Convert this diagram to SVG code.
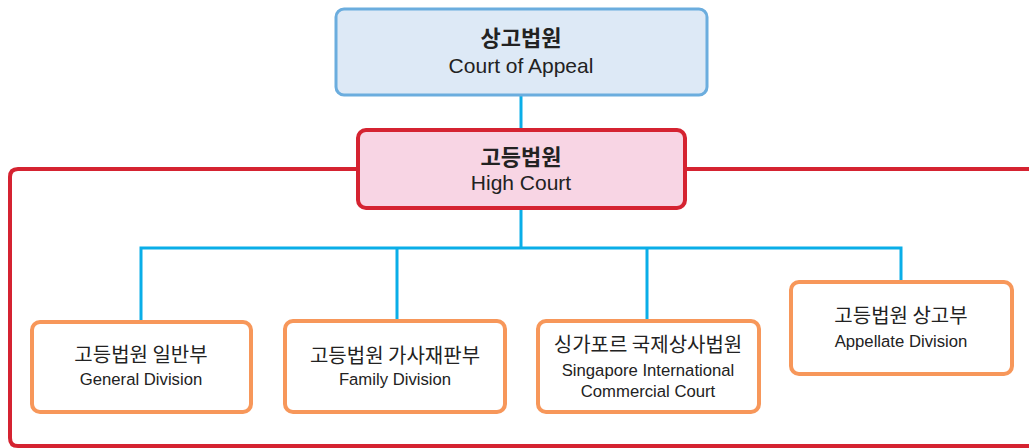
<svg xmlns="http://www.w3.org/2000/svg" width="1029" height="448" viewBox="0 0 1029 448">
<style>
text{font-family:"Liberation Sans","Noto Sans CJK KR",sans-serif;fill:#222;text-anchor:middle}
.ko{font-family:"Noto Sans CJK KR","Liberation Sans",sans-serif}
.b{font-weight:bold}
.kobig{font-size:22px}
.big{font-size:21px}
.sm{font-size:16.7px}
.kosm{font-size:20px}
.div{fill:#fff;stroke:#f7975a;stroke-width:4}
.conn{fill:none;stroke:#0aaee8;stroke-width:3}
.frame{fill:none;stroke:#d52331;stroke-width:4}
</style>
<g id="frame">
<path class="frame" d="M357 169 H18 Q10 169 10 177 V438 Q10 446 18 446 H1035"/>
<path class="frame" d="M686 169 H1035"/>
</g>
<g id="connectors">
<path class="conn" d="M521 95 V130"/>
<path class="conn" d="M521 209 V248 M141 321 V248 H901 V281 M397 248 V320 M647 248 V320"/>
</g>
<g id="court-of-appeal">
<rect x="336" y="9" width="371" height="86" rx="8" fill="#dde9f6" stroke="#6badde" stroke-width="3"/>
<text class="ko b kobig" x="521" y="46">상고법원</text>
<text class="big" x="521" y="73">Court of Appeal</text>
</g>
<g id="high-court">
<rect x="358" y="130" width="327" height="78" rx="8" fill="#f8d5e4" stroke="#d52331" stroke-width="4"/>
<text class="ko b kobig" x="521" y="165">고등법원</text>
<text class="big" x="521" y="190">High Court</text>
</g>
<g id="general-division">
<rect class="div" x="32" y="322" width="219" height="90" rx="8"/>
<text class="ko kosm" x="141" y="362">고등법원 일반부</text>
<text class="sm" x="141" y="385">General Division</text>
</g>
<g id="family-division">
<rect class="div" x="285" y="321" width="220" height="91" rx="8"/>
<text class="ko kosm" x="395" y="363">고등법원 가사재판부</text>
<text class="sm" x="395" y="385">Family Division</text>
</g>
<g id="sicc">
<rect class="div" x="538" y="321" width="221" height="91" rx="8"/>
<text class="ko kosm" x="648" y="352">싱가포르 국제상사법원</text>
<text class="sm" x="648" y="376">Singapore International</text>
<text class="sm" x="648" y="397">Commercial Court</text>
</g>
<g id="appellate-division">
<rect class="div" x="791" y="282" width="221" height="92" rx="8"/>
<text class="ko kosm" x="901" y="323">고등법원 상고부</text>
<text class="sm" x="901" y="347">Appellate Division</text>
</g>
</svg>
